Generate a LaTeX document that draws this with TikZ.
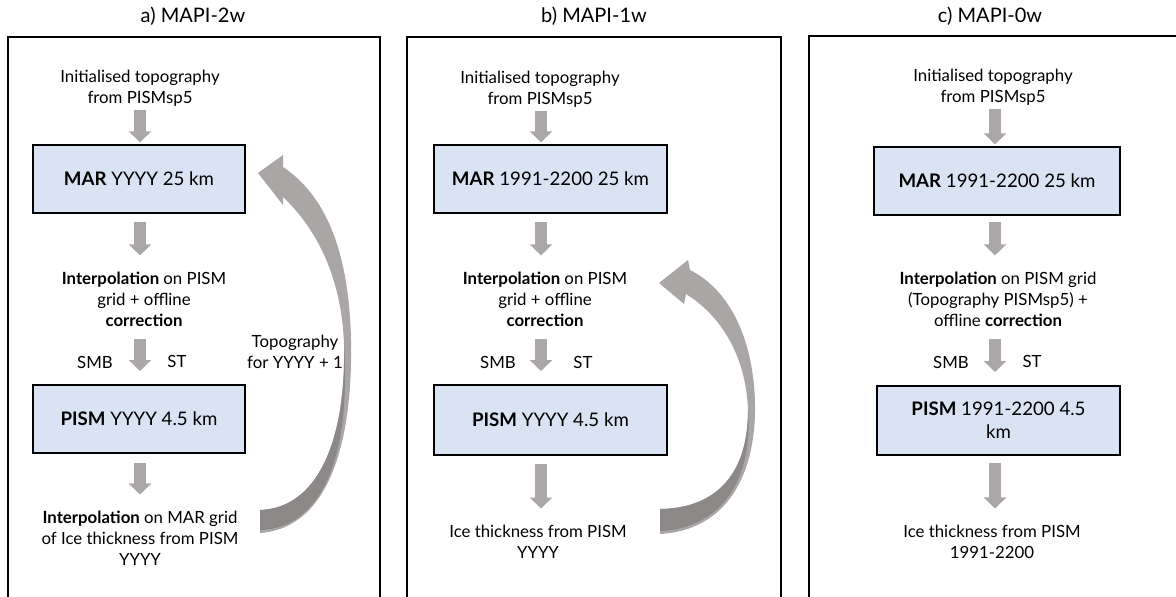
\documentclass[tikz,border=0pt]{standalone}
\usepackage{fontspec}
\setmainfont{Lato}
\usetikzlibrary{arrows.meta}
\definecolor{boxfill}{HTML}{DAE3F3}
\definecolor{arrowgray}{HTML}{ABA7A7}
\definecolor{curvelight}{HTML}{AAA6A6}
\definecolor{curvedark}{HTML}{8C8888}
\begin{document}
\begin{tikzpicture}[x=0.75pt,y=-0.75pt,
  frame/.style={draw=black,line width=2.2pt},
  paneltitle/.style={font=\fontsize{15}{18}\selectfont, inner sep=0},
  txt/.style={font=\fontsize{12.6}{15.75}\selectfont, align=center, inner sep=0},
  model/.style={draw=black, line width=2pt, fill=boxfill, font=\fontsize{14}{17.5}\selectfont, align=center, inner sep=0},
  flow/.style={draw=arrowgray, line width=9pt, -{Triangle[width=16.5pt,length=8.25pt]}},
  bigarrow/.style={fill=curvelight},
  bigshade/.style={fill=curvedark}
]
\useasboundingbox (0,0) rectangle (1176,596);
% frames
\draw[frame] (8,620) -- (8,37) -- (380,37) -- (380,620);
\draw[frame] (407,620) -- (407,37) -- (781,37) -- (781,620);
\draw[frame] (809,620) -- (809,36) -- (1190,36);
% titles
\node[paneltitle] (ta) at (193,16) {a) MAPI-2w};
\node[paneltitle] (tb) at (594,16) {b) MAPI-1w};
\node[paneltitle] (tc) at (990,16) {c) MAPI-0w};

% ---------- panel a ----------
\coordinate (colA) at (140,0);
\node[txt] (initA) at (140,88) {Initialised topography\\from PISMsp5};
\node[model, minimum width=212*0.75pt, minimum height=68*0.75pt] (marA) at (139,179) {\textbf{MAR} YYYY 25 km};
\node[txt] (interpA) at (144,299) {\textbf{Interpolation} on PISM\\grid + offline\\\textbf{correction}};
\node[txt] (smbA) at (95,362) {SMB};
\node[txt] (stA) at (177,361) {ST};
\node[model, minimum width=212*0.75pt, minimum height=68*0.75pt] (pismA) at (139,419) {\textbf{PISM} YYYY 4.5 km};
\node[txt] (iceA) at (140,538) {\textbf{Interpolation} on MAR grid\\of Ice thickness from PISM\\YYYY};
\node[txt] (topoA) at (295,352) {Topography\\for YYYY + 1};
\draw[flow, shorten <=3pt, shorten >=1pt] (colA |- initA.south) -- (colA |- marA.north);
\draw[flow, shorten <=6pt, shorten >=12pt] (colA |- marA.south) -- (colA |- interpA.north);
\draw[flow, shorten <=9pt, shorten >=9.5pt] (colA |- interpA.south) -- (colA |- pismA.north);
\draw[flow, shorten <=6.5pt, shorten >=12pt] (colA |- pismA.south) -- (colA |- iceA.north);
% curved arrow a
\fill[bigarrow] (260,510) -- (260,533)
  .. controls (330,528) and (353,440) .. (351,340)
  .. controls (349,250) and (325,195) .. (283,167)
  -- (283,155) -- (258,173) -- (283,205) -- (283,197)
  .. controls (318,230) and (342,280) .. (344,345)
  .. controls (346,440) and (318,508) .. (260,510) -- cycle;
\fill[bigshade] (260,510) .. controls (318,508) and (346,440) .. (344,345)
  .. controls (351,450) and (325,528) .. (260,530) -- cycle;

% ---------- panel b ----------
\coordinate (colB) at (541,0);
\node[txt] (initB) at (540,89) {Initialised topography\\from PISMsp5};
\node[model, minimum width=233*0.75pt, minimum height=68*0.75pt] (marB) at (550.5,179) {\textbf{MAR} 1991-2200 25 km};
\node[txt] (interpB) at (545,299) {\textbf{Interpolation} on PISM\\grid + offline\\\textbf{correction}};
\node[txt] (smbB) at (498,362) {SMB};
\node[txt] (stB) at (583,362) {ST};
\node[model, minimum width=233*0.75pt, minimum height=70*0.75pt] (pismB) at (550.5,420) {\textbf{PISM} YYYY 4.5 km};
\node[txt] (iceB) at (538,541.5) {Ice thickness from PISM\\YYYY};
\draw[flow, shorten <=3pt, shorten >=1pt] (colB |- initB.south) -- (colB |- marB.north);
\draw[flow, shorten <=6pt, shorten >=12pt] (colB |- marB.south) -- (colB |- interpB.north);
\draw[flow, shorten <=9pt, shorten >=9.5pt] (colB |- interpB.south) -- (colB |- pismB.north);
\draw[flow, shorten <=5.5pt, shorten >=12pt] (colB |- pismB.south) -- (colB |- iceB.north);
% curved arrow b
\fill[bigarrow] (660,509) -- (660,534)
  .. controls (730,530) and (756,470) .. (755,405)
  .. controls (754,340) and (730,290) .. (690,270)
  -- (688,260) -- (659,283) -- (684,304) -- (686,294)
  .. controls (720,315) and (746,355) .. (748,410)
  .. controls (748,470) and (720,508) .. (660,509) -- cycle;
\fill[bigshade] (660,509) .. controls (720,508) and (748,470) .. (748,410)
  .. controls (753,475) and (725,528) .. (660,531) -- cycle;

% ---------- panel c ----------
\coordinate (colC) at (995,0);
\node[txt] (initC) at (993,87) {Initialised topography\\from PISMsp5};
\node[model, minimum width=246*0.75pt, minimum height=68*0.75pt] (marC) at (997,181) {\textbf{MAR} 1991-2200 25 km};
\node[txt] (interpC) at (998,299) {\textbf{Interpolation} on PISM grid\\(Topography PISMsp5) +\\offline \textbf{correction}};
\node[txt] (smbC) at (951,362) {SMB};
\node[txt] (stC) at (1032,361) {ST};
\node[model, minimum width=243*0.75pt, minimum height=69*0.75pt] (pismC) at (998.5,420.5) {\textbf{PISM} 1991-2200 4.5\\km};
\node[txt] (iceC) at (992,541.5) {Ice thickness from PISM\\1991-2200};
\draw[flow, shorten <=3pt, shorten >=1pt] (colC |- initC.south) -- (colC |- marC.north);
\draw[flow, shorten <=4.5pt, shorten >=12pt] (colC |- marC.south) -- (colC |- interpC.north);
\draw[flow, shorten <=9pt, shorten >=9.5pt] (colC |- interpC.south) -- (colC |- pismC.north);
\draw[flow, shorten <=5pt, shorten >=12pt] (colC |- pismC.south) -- (colC |- iceC.north);
\end{tikzpicture}
\end{document}
